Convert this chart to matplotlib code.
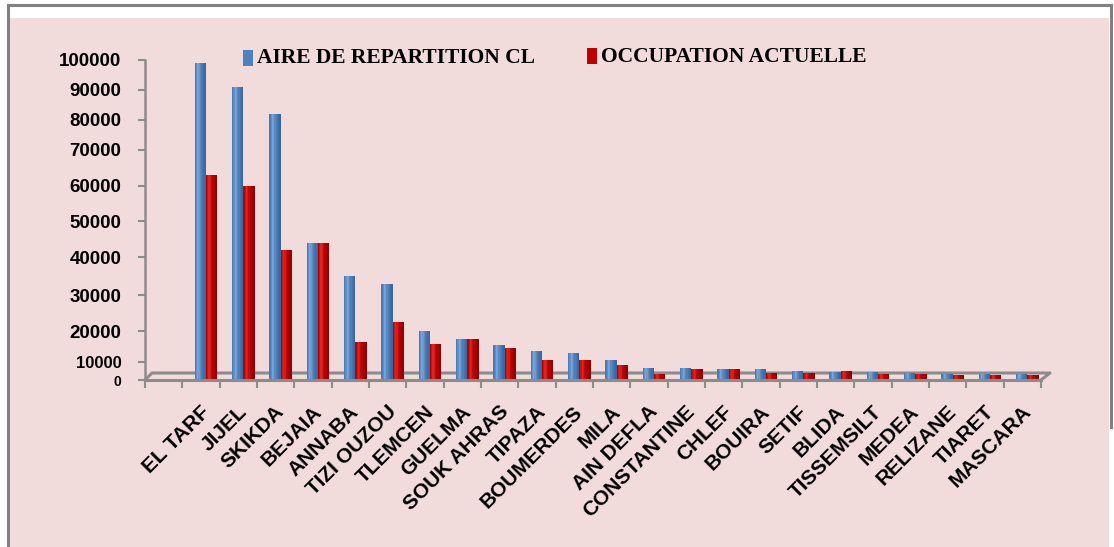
import numpy as np
import matplotlib
matplotlib.use("Agg")
import matplotlib.pyplot as plt
from matplotlib.patches import Rectangle
from matplotlib.lines import Line2D
import matplotlib.transforms as mtransforms
from matplotlib.colors import to_rgb

# ---------------- data ----------------
categories = ["EL TARF", "JIJEL", "SKIKDA", "BEJAIA", "ANNABA", "TIZI OUZOU",
              "TLEMCEN", "GUELMA", "SOUK AHRAS", "TIPAZA", "BOUMERDES", "MILA",
              "AIN DEFLA", "CONSTANTINE", "CHLEF", "BOUIRA", "SETIF", "BLIDA",
              "TISSEMSILT", "MEDEA", "RELIZANE", "TIARET", "MASCARA"]
aire_repartition = [99000, 91000, 82000, 44000, 35000, 33000, 20000, 17500,
                    15500, 13600, 13000, 10500, 6800, 6500, 6300, 5900, 5200,
                    4600, 4300, 4100, 3300, 3300, 3200]
occupation_actuelle = [63000, 60000, 42000, 44000, 16500, 22600, 15700, 17500,
                       14400, 10600, 10600, 8300, 3500, 5900, 6100, 4100, 3900,
                       5000, 3200, 3200, 2800, 2600, 2600]
y_ticks = [0, 10000, 20000, 30000, 40000, 50000, 60000, 70000, 80000, 90000, 100000]
series_names = ["AIRE DE REPARTITION CL", "OCCUPATION ACTUELLE"]

# ---------------- layout / style ----------------
W, H = 1114, 547
DPI = 100
PINK = "#F2DCDB"
GRAY = "#8C8C8C"
BLUE = "#4F81BD"
RED = "#C00000"

fig = plt.figure(figsize=(W / DPI, H / DPI), dpi=DPI, facecolor="white")

# background panel and frame
fig.add_artist(Rectangle((10 / W, 0), 1099 / W, 1 - 18 / H, transform=fig.transFigure,
                         facecolor=PINK, edgecolor="none", zorder=-10))
fig.add_artist(Line2D([8 / W, 8 / W], [0, 1 - 5 / H], color="#808080", lw=2.2,
                      transform=fig.transFigure, zorder=-5))
fig.add_artist(Line2D([8 / W, 1111 / W], [1 - 5 / H, 1 - 5 / H], color="#808080", lw=2.2,
                      transform=fig.transFigure, zorder=-5))
fig.add_artist(Line2D([1111 / W, 1111 / W], [1 - 5 / H, 1 - 427 / H], color="#808080", lw=2.2,
                      transform=fig.transFigure, zorder=-5))

ax_left, ax_right, ax_top, ax_bot = 145, 1041, 60, 380
ax = fig.add_axes([ax_left / W, 1 - ax_bot / H, (ax_right - ax_left) / W, (ax_bot - ax_top) / H])
ax.set_facecolor("none")

# y scale: tick label spacing in the reference is uneven
tick_px = [380, 362, 331, 295, 257, 221, 186, 150, 120, 90, 60]
tick_frac = [(380 - p) / 320 for p in tick_px]


def fwd(v):
    return np.interp(v, y_ticks, tick_frac)


def inv(f):
    return np.interp(f, tick_frac, y_ticks)


ax.set_yscale("function", functions=(fwd, inv))
ax.set_ylim(0, 100000)

unit = 37.33
x0 = -(206 - 145) / unit
ax.set_xlim(x0, x0 + (ax_right - ax_left) / unit)

x = np.arange(len(categories))
bw = 0.30
offsets = [-0.15, 0.15]


def shade(dark_l, light, base, dark_r, n):
    pos = [0.0, 0.3, 0.55, 1.0]
    cols = [to_rgb(dark_l), to_rgb(light), to_rgb(base), to_rgb(dark_r)]
    out = []
    for k in range(n):
        t = (k + 0.5) / n
        out.append(tuple(np.interp(t, pos, [c[i] for c in cols]) for i in range(3)))
    return out


n_strip = 9
shades = [shade("#3F70AA", "#7FA8DB", BLUE, "#34639A", n_strip),
          shade("#A00000", "#DA2A2A", RED, "#880000", n_strip)]
for s, vals in enumerate([aire_repartition, occupation_actuelle]):
    step = bw / n_strip
    for k in range(n_strip):
        xs = x + offsets[s] - bw / 2 + step * (k + 0.5)
        ax.bar(xs, vals, width=step * 1.08, color=shades[s][k], linewidth=0, zorder=3)

# floor (3D look)
ax.add_line(Line2D([0, (152 - 145) / 896, (1050 - 145) / 896, 1.0],
                   [0, 7 / 320, 7 / 320, 0], transform=ax.transAxes,
                   color=GRAY, lw=2.2, clip_on=False, zorder=1))

for side in ["top", "right"]:
    ax.spines[side].set_visible(False)
ax.spines["left"].set_color(GRAY)
ax.spines["left"].set_linewidth(1.8)
ax.spines["bottom"].set_color(GRAY)
ax.spines["bottom"].set_linewidth(2.2)
ax.spines["bottom"].set_zorder(4)

ax.set_yticks(y_ticks)
ax.set_yticklabels([str(v) for v in y_ticks])
ax.tick_params(axis="y", direction="out", length=5, width=1.5, color=GRAY, pad=12)
for lab in ax.get_yticklabels():
    lab.set_fontfamily("Liberation Sans")
    lab.set_fontweight("bold")
    lab.set_fontsize(13.5)
ylabs = ax.get_yticklabels()
ylabs[0].set_fontsize(10)
ylabs[1].set_fontsize(12)
ax.minorticks_off()

ax.set_xticks(x)
ax.set_xticklabels(categories)
ax.tick_params(axis="x", which="major", length=0, pad=16)
ax.set_xticks(x0 + np.arange(0, 25), minor=True)
ax.tick_params(axis="x", which="minor", direction="out", length=6, width=1.5, color=GRAY)
offset = mtransforms.ScaledTranslation(-6 / DPI, 0, fig.dpi_scale_trans)
for lab in ax.get_xticklabels():
    lab.set_rotation(45)
    lab.set_ha("right")
    lab.set_va("top")
    lab.set_rotation_mode("anchor")
    lab.set_fontfamily("Liberation Sans")
    lab.set_fontweight("bold")
    lab.set_fontsize(15)
    lab.set_transform(lab.get_transform() + offset)

# legend (placed as in the reference)
leg_font = dict(family="Liberation Serif", weight="bold", size=15.5)
fig.add_artist(Rectangle((243 / W, 1 - 66 / H), 10 / W, 16 / H, transform=fig.transFigure,
                         facecolor=BLUE, edgecolor="none"))
fig.text(257 / W, 1 - 58 / H, series_names[0], va="center", ha="left", **leg_font)
fig.add_artist(Rectangle((587 / W, 1 - 64 / H), 10 / W, 16 / H, transform=fig.transFigure,
                         facecolor=RED, edgecolor="none"))
fig.text(601 / W, 1 - 57 / H, series_names[1], va="center", ha="left", **leg_font)

fig.savefig("out.png", dpi=DPI, facecolor="white")
